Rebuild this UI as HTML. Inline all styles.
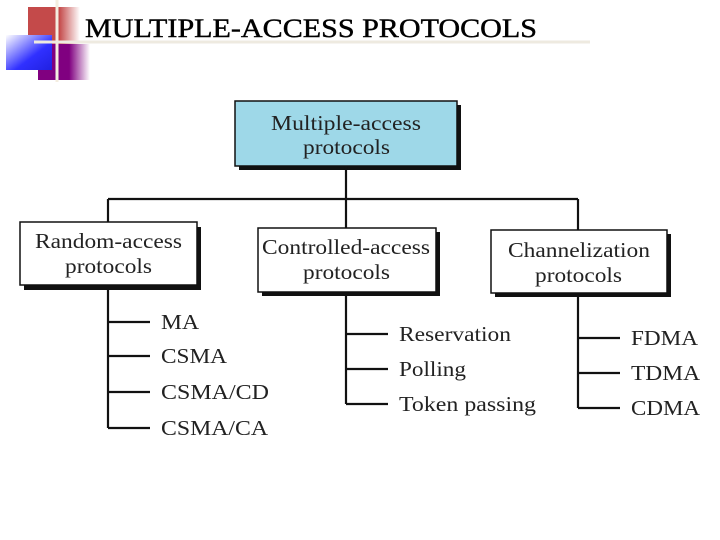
<!DOCTYPE html>
<html><head><style>
html,body{margin:0;padding:0;background:#fff;}
body{width:720px;height:540px;overflow:hidden;position:relative;}
svg{position:absolute;left:0;top:0;}
</style></head><body>
<svg width="720" height="540" xmlns="http://www.w3.org/2000/svg">
<defs>
<linearGradient id="gr" x1="0" x2="1"><stop offset="0" stop-color="#c44a4a"/><stop offset="0.6" stop-color="#c44a4a"/><stop offset="1" stop-color="#fff"/></linearGradient>
<linearGradient id="gb" x1="0" y1="0" x2="1" y2="1"><stop offset="0" stop-color="#fff"/><stop offset="0.6" stop-color="#3030ff"/><stop offset="1" stop-color="#2020e0"/></linearGradient>
<linearGradient id="gp" x1="0" x2="1"><stop offset="0" stop-color="#800080"/><stop offset="0.6" stop-color="#800080"/><stop offset="1" stop-color="#fff"/></linearGradient>
</defs>
<rect x="28" y="7" width="52" height="37" fill="url(#gr)"/>
<rect x="38" y="44" width="52" height="36" fill="url(#gp)"/>
<rect x="6" y="35" width="46" height="35" fill="url(#gb)"/>
<line x1="57" y1="0" x2="57" y2="82" stroke="#f4eee0" stroke-width="3"/>
<line x1="34" y1="42" x2="590" y2="42" stroke="#eeeae0" stroke-width="3"/>
<text x="85" y="37" font-family="Liberation Serif, serif" font-size="26" fill="#000" textLength="452" lengthAdjust="spacingAndGlyphs" stroke="#000" stroke-width="0.4">MULTIPLE-ACCESS PROTOCOLS</text>

<g font-family="Liberation Serif, serif" font-size="21" fill="#222" lengthAdjust="spacingAndGlyphs">
<rect x="239" y="105" width="222" height="65" fill="#111"/>
<rect x="235" y="101" width="222" height="65" fill="#9ed8e8" stroke="#111" stroke-width="1.5"/>
<text x="271" y="130" textLength="150" lengthAdjust="spacingAndGlyphs">Multiple-access</text>
<text x="303" y="154" textLength="87" lengthAdjust="spacingAndGlyphs">protocols</text>
<g stroke="#111" stroke-width="2.2" fill="none">
<line x1="346" y1="166" x2="346" y2="228"/>
<line x1="108" y1="199" x2="578" y2="199"/>
<line x1="108" y1="199" x2="108" y2="222"/>
<line x1="578" y1="199" x2="578" y2="230"/>
<line x1="108" y1="286" x2="108" y2="428"/>
<line x1="108" y1="322" x2="150" y2="322"/>
<line x1="108" y1="356" x2="150" y2="356"/>
<line x1="108" y1="392" x2="150" y2="392"/>
<line x1="108" y1="428" x2="150" y2="428"/>
<line x1="346" y1="292" x2="346" y2="404"/>
<line x1="346" y1="334" x2="388" y2="334"/>
<line x1="346" y1="369" x2="388" y2="369"/>
<line x1="346" y1="404" x2="388" y2="404"/>
<line x1="578" y1="293" x2="578" y2="408"/>
<line x1="578" y1="338" x2="620" y2="338"/>
<line x1="578" y1="373" x2="620" y2="373"/>
<line x1="578" y1="408" x2="620" y2="408"/>
</g>
<rect x="24" y="227" width="177" height="63" fill="#111"/>
<rect x="20" y="222" width="177" height="63" fill="#fff" stroke="#111" stroke-width="1.5"/>
<text x="35" y="248" textLength="147" lengthAdjust="spacingAndGlyphs">Random-access</text>
<text x="65" y="273" textLength="87" lengthAdjust="spacingAndGlyphs">protocols</text>
<rect x="262" y="232" width="178" height="64" fill="#111"/>
<rect x="258" y="228" width="178" height="64" fill="#fff" stroke="#111" stroke-width="1.5"/>
<text x="262" y="254" textLength="168" lengthAdjust="spacingAndGlyphs">Controlled-access</text>
<text x="303" y="279" textLength="87" lengthAdjust="spacingAndGlyphs">protocols</text>
<rect x="495" y="234" width="176" height="63" fill="#111"/>
<rect x="491" y="230" width="176" height="63" fill="#fff" stroke="#111" stroke-width="1.5"/>
<text x="508" y="257" textLength="142" lengthAdjust="spacingAndGlyphs">Channelization</text>
<text x="535" y="282" textLength="87" lengthAdjust="spacingAndGlyphs">protocols</text>
<text x="161" y="329" textLength="38" lengthAdjust="spacingAndGlyphs">MA</text>
<text x="161" y="363" textLength="66" lengthAdjust="spacingAndGlyphs">CSMA</text>
<text x="161" y="399" textLength="108" lengthAdjust="spacingAndGlyphs">CSMA/CD</text>
<text x="161" y="435" textLength="107" lengthAdjust="spacingAndGlyphs">CSMA/CA</text>
<text x="399" y="341" textLength="112" lengthAdjust="spacingAndGlyphs">Reservation</text>
<text x="399" y="376" textLength="67" lengthAdjust="spacingAndGlyphs">Polling</text>
<text x="399" y="411" textLength="137" lengthAdjust="spacingAndGlyphs">Token passing</text>
<text x="631" y="345" textLength="67" lengthAdjust="spacingAndGlyphs">FDMA</text>
<text x="631" y="380" textLength="69" lengthAdjust="spacingAndGlyphs">TDMA</text>
<text x="631" y="415" textLength="69" lengthAdjust="spacingAndGlyphs">CDMA</text>
</g>
</svg>
</body></html>
